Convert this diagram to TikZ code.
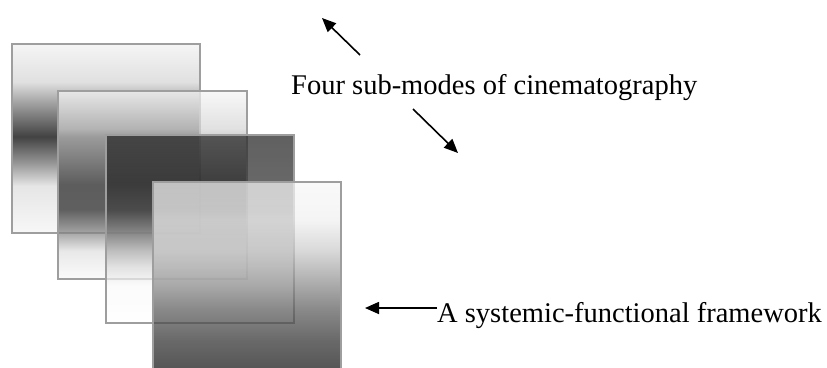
\documentclass[tikz,border=0pt]{standalone}
\usepackage{fontspec}
\setmainfont{Liberation Serif}
\usetikzlibrary{arrows.meta}

% Vertical grey ramps for the four layers (25bp = bottom edge, 75bp = top edge)
\pgfdeclareverticalshading{layerA}{100bp}{gray(0bp)=(0.97); gray(25bp)=(0.97); gray(37.5bp)=(0.90); gray(43.5bp)=(0.59); gray(50.5bp)=(0.26); gray(57.5bp)=(0.55); gray(65bp)=(0.88); gray(75bp)=(0.96); gray(100bp)=(0.96)}
\pgfdeclareverticalshading{layerB}{100bp}{gray(0bp)=(0.98); gray(25bp)=(0.98); gray(32.5bp)=(0.88); gray(37.5bp)=(0.51); gray(43.5bp)=(0.16); gray(50bp)=(0.16); gray(57.5bp)=(0.51); gray(65bp)=(0.84); gray(75bp)=(0.96); gray(100bp)=(0.96)}
\pgfdeclareverticalshading{layerC}{100bp}{gray(0bp)=(1); gray(25bp)=(1); gray(35bp)=(0.98); gray(40bp)=(0.86); gray(47.5bp)=(0.55); gray(55bp)=(0.27); gray(62.5bp)=(0.18); gray(75bp)=(0.14); gray(100bp)=(0.14)}
\pgfdeclareverticalshading{layerD}{100bp}{gray(0bp)=(0.075); gray(25bp)=(0.075); gray(33bp)=(0.19); gray(41bp)=(0.36); gray(49bp)=(0.58); gray(57bp)=(0.80); gray(65bp)=(0.945); gray(75bp)=(0.97); gray(100bp)=(0.97)}

\tikzset{
  layer/.style={draw=black!38, line width=1.2pt, fill opacity=0.72},
  label/.style={inner sep=0pt, font=\fontsize{28.5}{34}\selectfont},
  pointer/.style={line width=1.6pt, -{Triangle[length=14pt,width=12pt]}}
}

\begin{document}
\begin{tikzpicture}[x=1pt, y=-1pt]
  \clip (0,0) rectangle (827,367);
  \fill[white] (0,0) rectangle (827,367);

  % stacked layers, back to front
  \shade[layer, fill opacity=1, shading=layerA] (12,44) rectangle (200,233);
  \shade[layer, shading=layerB] (58,91) rectangle (247,279);
  \shade[layer, shading=layerC] (106,135) rectangle (294,323);
  \shade[layer, shading=layerD] (153,182) rectangle (341,370);

  % labels
  \node[label, anchor=base west] (modes) at (291,94) {Four sub-modes of cinematography};
  \node[label, anchor=base west] (frame) at (437,322) {A systemic-functional framework};

  % arrow end points
  \coordinate (upTail) at (360,55);
  \coordinate (upTip) at (322,18);
  \coordinate (downTail) at (413,109);
  \coordinate (downTip) at (458,153);
  \coordinate (frameTail) at (437,308);
  \coordinate (frameTip) at (365,308);

  \draw[pointer] (upTail) -- (upTip);
  \draw[pointer] (downTail) -- (downTip);
  \draw[pointer] (frameTail) -- (frameTip);
\end{tikzpicture}
\end{document}
